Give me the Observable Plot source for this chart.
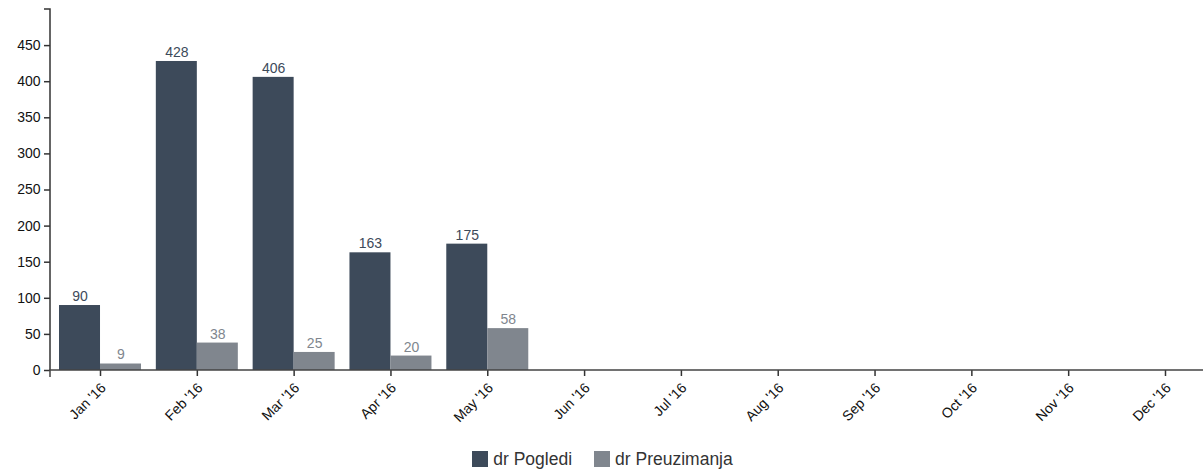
<!DOCTYPE html>
<html>
<head>
<meta charset="utf-8">
<script src="https://cdn.jsdelivr.net/npm/d3@7"></script>
<script src="https://cdn.jsdelivr.net/npm/@observablehq/plot@0.6"></script>
<style>
  body { margin: 0; background: #fff; font-family: "Liberation Sans", Arial, Helvetica, sans-serif; }
  #chart svg { display: block; }
  .legend { display: flex; justify-content: center; align-items: center; font-size: 17.5px; color: #333; height: 22px; margin-top: 3px; padding-left: 2px; }
  .legend .item { display: flex; align-items: center; margin: 0 11px; }
  .legend .sw { width: 16px; height: 16px; margin-right: 5px; }
</style>
</head>
<body>
<div id="chart"></div>
<div class="legend" id="legend"></div>
<script>
const months = ["Jan '16","Feb '16","Mar '16","Apr '16","May '16","Jun '16","Jul '16","Aug '16","Sep '16","Oct '16","Nov '16","Dec '16"];
const dataMonths = ["Jan '16","Feb '16","Mar '16","Apr '16","May '16"];
const pogledi = [90, 428, 406, 163, 175];
const preuzimanja = [9, 38, 25, 20, 58];
const seriesNames = ["dr Pogledi", "dr Preuzimanja"];
const seriesColors = ["#3d4a5a", "#80868e"];
const yTicks = [0, 50, 100, 150, 200, 250, 300, 350, 400, 450];

const rowsA = dataMonths.map((m, i) => ({month: m, value: pogledi[i]}));
const rowsB = dataMonths.map((m, i) => ({month: m, value: preuzimanja[i]}));

const W = 1203, H = 445, mL = 50, mT = 9, mB = 75;
const halfBand = 41;

const domainLines = (index, scales, values, dims) => {
  const g = d3.create("svg:g").attr("fill", "none").attr("stroke", "#333").attr("stroke-width", 1.5);
  const y0 = scales.y(0), yTop = scales.y(500);
  g.append("path").attr("d", `M${mL - 6},${yTop}H${mL}V${y0}`);
  g.append("path").attr("d", `M${mL},${y0 + 7}V${y0}H${dims.width}`).attr("stroke", "#444");
  return g.node();
};

const chart = Plot.plot({
  width: W,
  height: H,
  marginLeft: mL,
  marginRight: 0,
  marginTop: mT,
  marginBottom: mB,
  style: {fontFamily: "'Liberation Sans', Arial, Helvetica, sans-serif", fontSize: "14px", color: "#111"},
  x: {type: "band", domain: months, range: [51.6, 1213.4], paddingInner: 0.153, paddingOuter: 0.0765, round: false, label: null},
  y: {domain: [0, 500], label: null},
  marks: [
    Plot.barY(rowsA, {x: "month", y: "value", fill: seriesColors[0], insetRight: halfBand}),
    Plot.barY(rowsB, {x: "month", y: "value", fill: seriesColors[1], insetLeft: halfBand}),
    Plot.text(rowsA, {x: "month", y: "value", text: d => String(d.value), dx: -halfBand / 2, dy: -9, fill: seriesColors[0], fontSize: 14}),
    Plot.text(rowsB, {x: "month", y: "value", text: d => String(d.value), dx: halfBand / 2, dy: -9, fill: seriesColors[1], fontSize: 14}),
    Plot.axisY({ticks: yTicks, tickSize: 6, tickPadding: 4, fontSize: 14, label: null, stroke: "#333", strokeWidth: 1.5}),
    Plot.axisX({tickSize: 6, text: null, label: null, stroke: "#333", strokeWidth: 1.5}),
    Plot.axisX({tickSize: 0, tickRotate: -45, tickPadding: 12, dx: 3, dy: 3, fontSize: 14, label: null}),
    domainLines
  ]
});
document.getElementById("chart").appendChild(chart);

const legend = document.getElementById("legend");
seriesNames.forEach((name, i) => {
  const item = document.createElement("div");
  item.className = "item";
  const sw = document.createElement("div");
  sw.className = "sw";
  sw.style.background = seriesColors[i];
  const t = document.createElement("span");
  t.textContent = name;
  item.appendChild(sw);
  item.appendChild(t);
  legend.appendChild(item);
});
</script>
</body>
</html>
